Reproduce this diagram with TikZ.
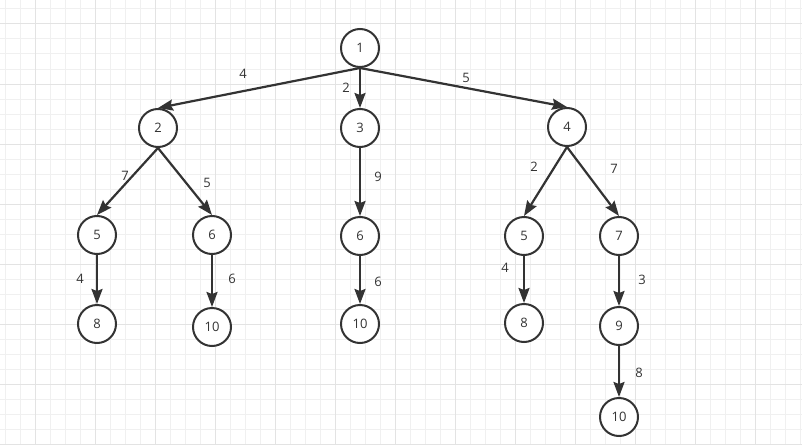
\documentclass[tikz,border=0pt]{standalone}
\usepackage{fontspec}
\setmainfont{Open Sans}
\usetikzlibrary{arrows.meta}
\definecolor{ink}{HTML}{333333}
\definecolor{gminor}{HTML}{F0F0F0}
\definecolor{gmajor}{HTML}{E3E3E3}
\tikzset{
  vert/.style={circle, draw=ink, line width=2pt, minimum size=38pt, inner sep=0pt, font=\fontsize{13}{15}\selectfont, text=ink, fill=white},
  edge/.style={draw=ink, line width=2.2pt, -{Stealth[length=15pt,width=11pt,inset=2pt]}},
  lbl/.style={font=\fontsize{13}{15}\selectfont, text=ink, inner sep=0pt},
  gmin/.style={draw=gminor, line width=1pt},
  gmaj/.style={draw=gmajor, line width=1pt}
}
\begin{document}
\begin{tikzpicture}[x=1pt,y=-1pt]
\fill[white] (0,0) rectangle (802,444);
\useasboundingbox (0,0) rectangle (802,444);
\foreach \x in {5,20,...,800} \draw[gmin] (\x,0) -- (\x,444);
\foreach \y in {9,24,...,444} \draw[gmin] (0,\y) -- (802,\y);
\foreach \x in {35,95,...,800} \draw[gmaj] (\x,0) -- (\x,444);
\foreach \y in {24,84,...,444} \draw[gmaj] (0,\y) -- (802,\y);

\node[vert] (n1) at (360,48) {1};
\node[vert] (n2) at (158,128) {2};
\node[vert] (n3) at (360,128) {3};
\node[vert] (n4) at (567,127) {4};
\node[vert] (n5a) at (97,235) {5};
\node[vert] (n6a) at (212,235) {6};
\node[vert] (n6b) at (360,236) {6};
\node[vert] (n5b) at (524,236) {5};
\node[vert] (n7) at (619,236) {7};
\node[vert] (n8a) at (97,324) {8};
\node[vert] (n10a) at (212,327) {10};
\node[vert] (n10b) at (360,324) {10};
\node[vert] (n8b) at (524,323) {8};
\node[vert] (n9) at (619,326) {9};
\node[vert] (n10c) at (619,417) {10};

\draw[edge] (n1.south) -- (n2.north);
\draw[edge] (n1.south) -- (n3.north);
\draw[edge] (n1.south) -- (n4.north);
\draw[edge] (n2.south) -- (n5a.north);
\draw[edge] (n2.south) -- (n6a.north);
\draw[edge] (n3.south) -- (n6b.north);
\draw[edge] (n4.south) -- (n5b.north);
\draw[edge] (n4.south) -- (n7.north);
\draw[edge] (n5a.south) -- (n8a.north);
\draw[edge] (n6a.south) -- (n10a.north);
\draw[edge] (n6b.south) -- (n10b.north);
\draw[edge] (n5b.south) -- (n8b.north);
\draw[edge] (n7.south) -- (n9.north);
\draw[edge] (n9.south) -- (n10c.north);

\node[lbl] (l12) at (243,74) {4};
\node[lbl] (l13) at (346,88) {2};
\node[lbl] (l14) at (466,78) {5};
\node[lbl] (l25) at (125,176) {7};
\node[lbl] (l26) at (207,183) {5};
\node[lbl] (l36) at (378,177) {9};
\node[lbl] (l45) at (534,167) {2};
\node[lbl] (l47) at (614,169) {7};
\node[lbl] (l58) at (80,279) {4};
\node[lbl] (l610) at (232,279) {6};
\node[lbl] (l6b10) at (378,282) {6};
\node[lbl] (l5b8) at (505,268) {4};
\node[lbl] (l79) at (642,280) {3};
\node[lbl] (l910) at (639,373) {8};
\end{tikzpicture}
\end{document}
